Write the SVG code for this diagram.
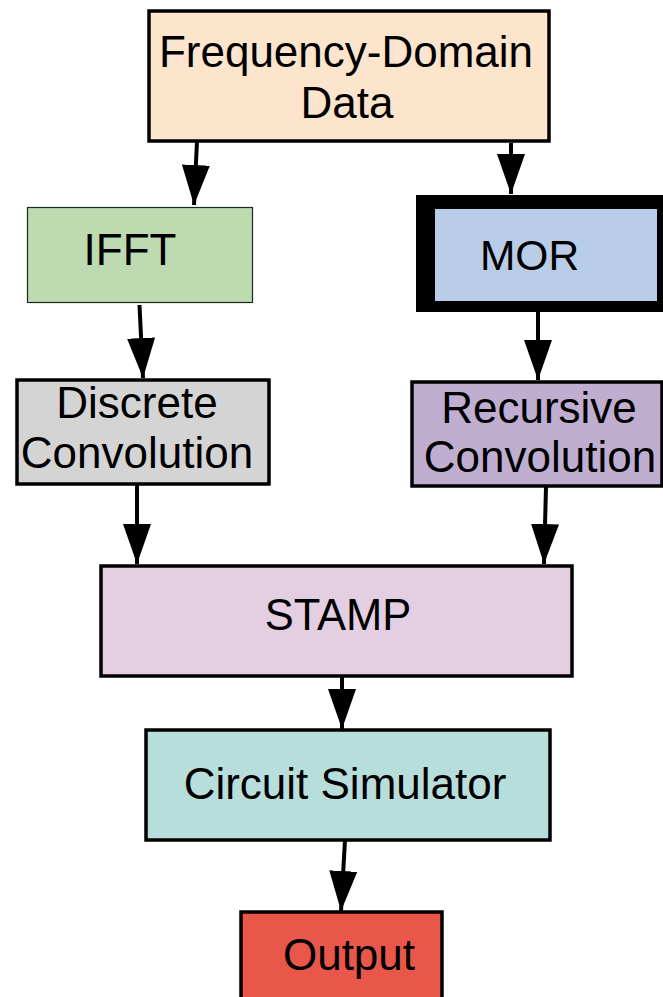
<svg xmlns="http://www.w3.org/2000/svg" width="663" height="997" viewBox="0 0 663 997">
<style>
text{font-family:"Liberation Sans",Arial,sans-serif;font-size:44px;fill:#000;text-anchor:middle}
.b{stroke:#000;stroke-width:3.5}
.c{stroke:#000;stroke-width:4;fill:none}
</style>
<defs>
<marker id="ah" markerUnits="userSpaceOnUse" viewBox="0 0 40 28" markerWidth="40" markerHeight="28" refX="40" refY="14" orient="auto">
<path d="M0,0 L40,14 L0,28 Z" fill="#000"/>
</marker>
</defs>
<rect width="663" height="997" fill="#fff"/>
<g id="freq">
<rect class="b" x="149" y="11" width="400" height="130" fill="#fde4cc"/>
<text x="346" y="67">Frequency-Domain</text>
<text x="347" y="118">Data</text>
</g>
<g id="ifft">
<rect x="27.5" y="207.5" width="225" height="95" fill="#bedab0" stroke="#1a2a1a" stroke-width="1.2"/>
<text x="130" y="265">IFFT</text>
</g>
<g id="mor">
<rect x="416" y="195" width="247" height="117" fill="#000"/>
<rect x="435" y="209" width="222" height="92" fill="#b9cde8"/>
<text x="529.5" y="270" style="font-size:42.5px">MOR</text>
</g>
<g id="discrete">
<rect class="b" x="17" y="380" width="252" height="104" fill="#d4d4d4"/>
<text x="137" y="418">Discrete</text>
<text x="137" y="468">Convolution</text>
</g>
<g id="recursive">
<rect class="b" x="412" y="382" width="250" height="104" fill="#bfaed0"/>
<text x="539" y="423">Recursive</text>
<text x="540" y="472">Convolution</text>
</g>
<g id="stamp">
<rect class="b" x="101" y="566" width="471" height="110" fill="#e3cfe1"/>
<text x="338" y="630" style="font-size:43.5px">STAMP</text>
</g>
<g id="circuit">
<rect class="b" x="146" y="730" width="404" height="110" fill="#b8dedc"/>
<text x="345" y="799">Circuit Simulator</text>
</g>
<g id="output">
<rect class="b" x="241" y="912" width="201" height="100" fill="#e8574a"/>
<text x="349" y="970">Output</text>
</g>
<g id="connectors">
<line class="c" x1="197" y1="141" x2="194" y2="205" marker-end="url(#ah)"/>
<line class="c" x1="511" y1="143" x2="511" y2="194" marker-end="url(#ah)"/>
<line class="c" x1="139.5" y1="305" x2="143" y2="378" marker-end="url(#ah)"/>
<line class="c" x1="538" y1="312" x2="538" y2="380" marker-end="url(#ah)"/>
<line class="c" x1="137" y1="485" x2="137" y2="564" marker-end="url(#ah)"/>
<line class="c" x1="546" y1="487" x2="544" y2="564" marker-end="url(#ah)"/>
<line class="c" x1="342" y1="676" x2="342" y2="729" marker-end="url(#ah)"/>
<line class="c" x1="345" y1="840" x2="341" y2="911" marker-end="url(#ah)"/>
</g>
</svg>
